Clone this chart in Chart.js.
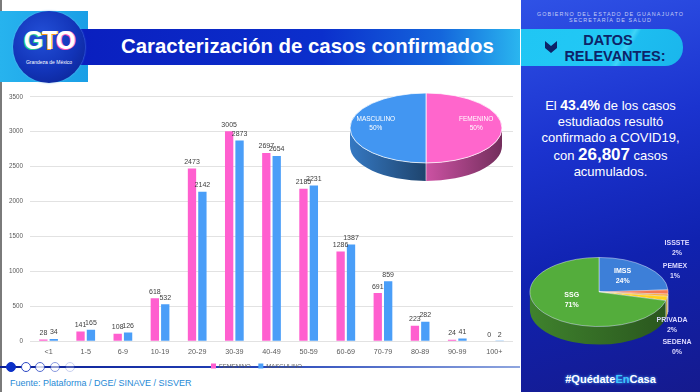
<!DOCTYPE html>
<html>
<head>
<meta charset="utf-8">
<script src="https://cdn.jsdelivr.net/npm/chart.js@4.4.1/dist/chart.umd.min.js"></script>
<style>
  body { margin: 0; width: 700px; height: 392px; overflow: hidden; background: #fff; position: relative; font-family: "Liberation Sans", Arial, sans-serif; }
  .abs { position: absolute; }
  #leftEdge { left: 0; top: 0; width: 2px; height: 392px; background: #7a7a7a; }
  #cyanBlock { left: 0; top: 11px; width: 88px; height: 71px; background: linear-gradient(90deg, #27b3ee, #1a9fe6); }
  #band { left: 80px; top: 29px; width: 440px; height: 36px; background: linear-gradient(90deg, #0a1fbf 0%, #0b2fcc 55%, #1466dc 82%, #2ab6ef 100%); }
  #logo { left: 13px; top: 11px; width: 72px; height: 72px; border-radius: 50%; background: radial-gradient(circle at 40% 35%, #2350d8 0%, #1234b8 55%, #0a1f8a 100%); box-shadow: 0 0 2px #6fb8f0; }
  #gto { left: 13px; top: 26px; width: 72px; text-align: center; font: bold 25px "Liberation Sans", Arial, sans-serif; color: #fff; letter-spacing: -1px; }
  #gto span:nth-child(1) { text-shadow: -1px 1px 0 #22c98c, 1px 0 0 #46e0b0; }
  #gto span:nth-child(2) { text-shadow: -1px 1px 0 #ff9a1a, 1px 0 0 #ffd23a; }
  #gto span:nth-child(3) { text-shadow: -1px 1px 0 #ff4fb8, 1px 0 0 #ff9ad8; }
  #grandeza { left: 13px; top: 59px; width: 72px; text-align: center; font-size: 5px; color: #fff; }
  #title { left: 121px; top: 35px; font: bold 20.4px "Liberation Sans", Arial, sans-serif; color: #fff; white-space: nowrap; }

  #panel { left: 521px; top: 0; width: 179px; height: 392px; background: linear-gradient(165deg, #2f52e6 0%, #1b33cf 35%, #1022b0 65%, #151a8e 100%); overflow: hidden; }
  .gob { left: 521px; width: 179px; text-align: center; font-size: 5.4px; color: #c6cdf5; letter-spacing: 1.1px; white-space: nowrap; }
  #datos { left: 521px; top: 29px; width: 162px; height: 37px; border-radius: 0 18px 18px 0; background: linear-gradient(120deg, #20c6f4 0%, #22c8f5 60%, #3fd3f7 63%, #1dbdf0 66%, #1ab6ec 100%); }
  .dtxt { left: 521px; width: 174px; text-align: center; font: bold 14.5px "Liberation Sans", Arial, sans-serif; color: #0d2368; }
  #chev { left: 545px; top: 41px; width: 12px; height: 12px; background: #0d2368; clip-path: polygon(0 0, 50% 42%, 100% 0, 100% 58%, 50% 100%, 0 58%); }
  .info { left: 521px; width: 179px; text-align: center; font-size: 13px; color: #fff; white-space: nowrap; line-height: 16px; }
  .info b.a { font-size: 14px; }
  .info b.b { font-size: 17px; }
  #quedate { left: 521px; top: 373px; width: 179px; text-align: center; font: bold 11px "Liberation Sans", Arial, sans-serif; color: #fff; text-shadow: 0 0 3px #4aa8ff; }
  #quedate span { color: #3cc8ff; }

  #pagerLine { left: 0; top: 366px; width: 520px; height: 2px; background: linear-gradient(90deg, #0b1e94 0%, #2443b8 50%, #8fa6df 100%); }
  .dot { top: 362px; width: 8px; height: 8px; border-radius: 50%; border: 1.3px solid #2b47c4; background: #fff; }
  #fuente { left: 10px; top: 378px; font-size: 9px; color: #1f8ad6; white-space: nowrap; }

  #bars { left: 0; top: 86px; }
  #sexPie { left: 346px; top: 50px; }
  #instPie { left: 520px; top: 215px; }
</style>
</head>
<body>
<div class="abs" id="leftEdge"></div>
<div class="abs" id="cyanBlock"></div>
<div class="abs" id="band"></div>
<div class="abs" id="logo"></div>
<div class="abs" id="gto"><span>G</span><span>T</span><span>O</span></div>
<div class="abs" id="grandeza">Grandeza de México</div>
<div class="abs" id="title">Caracterización de casos confirmados</div>

<div class="abs" id="panel"></div>
<div class="abs gob" style="top:11px">GOBIERNO DEL ESTADO DE GUANAJUATO</div>
<div class="abs gob" style="top:17px">SECRETARÍA DE SALUD</div>
<div class="abs" id="datos"></div>
<div class="abs" id="chev"></div>
<div class="abs dtxt" style="top:32px">DATOS</div>
<div class="abs dtxt" style="top:48px; left:530px; width:170px">RELEVANTES:</div>
<div class="abs info" style="top:97px">El <b class="a">43.4%</b> de los casos</div>
<div class="abs info" style="top:114px">estudiados resultó</div>
<div class="abs info" style="top:130px">confirmado a COVID19,</div>
<div class="abs info" style="top:147px">con <b class="b">26,807</b> casos</div>
<div class="abs info" style="top:164px">acumulados.</div>
<div class="abs" id="quedate">#Quédate<span>En</span>Casa</div>

<div class="abs" id="pagerLine"></div>
<div class="abs dot" style="left:6px; background:#0b30c8; border-color:#0b30c8"></div>
<div class="abs dot" style="left:21px"></div>
<div class="abs dot" style="left:35px; opacity:.8"></div>
<div class="abs dot" style="left:50px; opacity:.55"></div>
<div class="abs dot" style="left:65px; opacity:.25"></div>
<div class="abs" id="fuente">Fuente: Plataforma / DGE/ SINAVE / SISVER</div>

<canvas class="abs" id="bars" width="520" height="293"></canvas>
<canvas class="abs" id="sexPie" width="160" height="160"></canvas>
<canvas class="abs" id="instPie" width="180" height="160"></canvas>

<script>
// Confirmed cases by age group and sex
const ageGroups = ['<1', '1-5', '6-9', '10-19', '20-29', '30-39', '40-49', '50-59', '60-69', '70-79', '80-89', '90-99', '100+'];
const femenino = [28, 141, 108, 618, 2473, 3005, 2697, 2185, 1286, 691, 223, 24, 0];
const masculino = [34, 165, 126, 532, 2142, 2873, 2654, 2231, 1387, 859, 282, 41, 2];

// Sex split
const sexLabels = ['FEMENINO', 'MASCULINO'];
const sexShares = [50, 50];

// Cases by institution
const instLabels = ['IMSS', 'ISSSTE', 'PEMEX', 'PRIVADA', 'SEDENA', 'SSG'];
const instShares = [24, 2, 1, 2, 0, 71];

const FONT = '"Liberation Sans", Arial, sans-serif';

// value labels on top of bars
const barLabels = {
    id: 'barLabels',
    afterDatasetsDraw(chart) {
        const ctx = chart.ctx;
        ctx.save();
        ctx.font = '7px ' + FONT;
        ctx.fillStyle = '#404040';
        ctx.textAlign = 'center';
        ctx.textBaseline = 'bottom';
        chart.data.datasets.forEach((ds, i) => {
            chart.getDatasetMeta(i).data.forEach((bar, j) => {
                ctx.fillText(ds.data[j], bar.x, bar.y - 3);
            });
        });
        ctx.restore();
    }
};

function shade(hex, f) {
    const n = parseInt(hex.slice(1), 16);
    const r = Math.round(((n >> 16) & 255) * f);
    const g = Math.round(((n >> 8) & 255) * f);
    const b = Math.round((n & 255) * f);
    return `rgb(${r},${g},${b})`;
}

// squash the pie into an ellipse and give it a side wall
const pie3d = {
    id: 'pie3d',
    beforeDatasetsDraw(chart, args, opts) {
        const ctx = chart.ctx;
        const arcs = chart.getDatasetMeta(0).data;
        const cx = arcs[0].x, cy = arcs[0].y, r = arcs[0].outerRadius;
        const d = opts.depth;
        const colors = chart.data.datasets[0].backgroundColor;
        ctx.save();
        ctx.translate(0, cy);
        ctx.scale(1, opts.tilt);
        ctx.translate(0, -cy);
        arcs.forEach((arc, i) => {
            const a0 = Math.max(arc.startAngle, 0);
            const a1 = Math.min(arc.endAngle, Math.PI);
            if (a1 <= a0) return;
            const xl = cx + Math.cos(a1) * r, xr = cx + Math.cos(a0) * r;
            const g = ctx.createLinearGradient(Math.min(xl, xr), 0, Math.max(xl, xr), 0);
            g.addColorStop(0, shade(colors[i], opts.light));
            g.addColorStop(1, shade(colors[i], opts.dark));
            ctx.beginPath();
            ctx.arc(cx, cy, r, a0, a1);
            ctx.arc(cx, cy + d, r, a1, a0, true);
            ctx.closePath();
            ctx.fillStyle = g;
            ctx.fill();
            // slice edge on the wall
            if (arc.startAngle > 0 && arc.startAngle < Math.PI) {
                ctx.beginPath();
                ctx.moveTo(cx + Math.cos(a0) * r, cy + Math.sin(a0) * r);
                ctx.lineTo(cx + Math.cos(a0) * r, cy + Math.sin(a0) * r + d);
                ctx.strokeStyle = 'rgba(255,255,255,0.8)';
                ctx.lineWidth = 1;
                ctx.stroke();
            }
        });
    },
    afterDatasetsDraw(chart) {
        chart.ctx.restore();
    }
};

// slice labels: name + percent
const pieLabels = {
    id: 'pieLabels',
    afterDraw(chart, args, opts) {
        const ctx = chart.ctx;
        const ds = chart.data.datasets[0];
        const total = ds.data.reduce((a, b) => a + b, 0);
        ctx.save();
        ctx.textAlign = 'center';
        ctx.textBaseline = 'middle';
        chart.getDatasetMeta(0).data.forEach((arc, i) => {
            const name = chart.data.labels[i];
            const pct = Math.round(ds.data[i] / total * 100) + '%';
            const out = opts.outside && opts.outside[name];
            let x, y;
            if (out) {
                x = arc.x + out[0];
                y = arc.y + out[1];
                ctx.fillStyle = opts.outColor;
            } else {
                const mid = (arc.startAngle + arc.endAngle) / 2;
                x = arc.x + Math.cos(mid) * arc.outerRadius * opts.inset;
                y = arc.y + Math.sin(mid) * arc.outerRadius * opts.inset * opts.tilt + opts.dy;
                ctx.fillStyle = '#ffffff';
            }
            ctx.font = opts.font;
            ctx.fillText(name, x, y - opts.gap / 2);
            ctx.fillText(pct, x, y + opts.gap / 2);
        });
        ctx.restore();
    }
};

new Chart(document.getElementById('bars'), {
    type: 'bar',
    data: {
        labels: ageGroups,
        datasets: [
            { label: 'FEMENINO', data: femenino, backgroundColor: '#ff5fcf' },
            { label: 'MASCULINO', data: masculino, backgroundColor: '#4a9ef8' }
        ]
    },
    options: {
        responsive: false,
        animation: false,
        layout: { padding: { top: 6, right: 7, left: 0, bottom: 0 } },
        datasets: { bar: { categoryPercentage: 0.56, barPercentage: 0.8 } },
        plugins: {
            tooltip: { enabled: false },
            legend: {
                position: 'bottom',
                labels: {
                    boxWidth: 5, boxHeight: 5, padding: 1, color: '#5a5a5a', font: { size: 6, family: FONT },
                    // keep the gap between the two entries
                    generateLabels(chart) {
                        return Chart.defaults.plugins.legend.labels.generateLabels(chart)
                            .map((l, i) => i === 0 ? { ...l, text: l.text + '\u00a0\u00a0\u00a0\u00a0' } : l);
                    }
                }
            }
        },
        scales: {
            x: {
                grid: { display: false, drawTicks: false },
                border: { display: false },
                ticks: { padding: 6, color: '#5a5a5a', font: { size: 7.2, family: FONT } }
            },
            y: {
                min: 0,
                max: 3500,
                grid: { color: '#e2e2e2', drawTicks: false },
                border: { display: false },
                ticks: { stepSize: 500, padding: 7, color: '#5a5a5a', font: { size: 6.3, family: FONT }, callback: v => String(v) },
                afterFit(scale) { scale.width = 30; }
            }
        }
    },
    plugins: [barLabels]
});

new Chart(document.getElementById('sexPie'), {
    type: 'pie',
    data: {
        labels: sexLabels,
        datasets: [{ data: sexShares, backgroundColor: ['#ff66cc', '#4296f2'], borderColor: '#ffffff', borderWidth: 1, clip: false }]
    },
    options: {
        responsive: false,
        animation: false,
        layout: { padding: { left: 3.5, right: 3.5, top: 1.5, bottom: 5.5 } },
        plugins: {
            legend: { display: false },
            tooltip: { enabled: false },
            pie3d: { tilt: 0.46, depth: 39, light: 0.8, dark: 0.45 },
            pieLabels: { inset: 0.66, tilt: 0.46, dy: -4, gap: 9, font: '6.5px ' + FONT }
        }
    },
    plugins: [pie3d, pieLabels]
});

new Chart(document.getElementById('instPie'), {
    type: 'pie',
    data: {
        labels: instLabels,
        datasets: [{
            data: instShares,
            backgroundColor: ['#3d7fd8', '#f47a52', '#ffa726', '#ffd21f', '#9e9e9e', '#54ad3c'],
            borderColor: 'rgba(255,255,255,0.7)',
            borderWidth: 0.8,
            clip: false
        }]
    },
    options: {
        responsive: false,
        animation: false,
        layout: { padding: { left: 9.5, right: 31.5, top: 7.5, bottom: 13.5 } },
        plugins: {
            legend: { display: false },
            tooltip: { enabled: false },
            pie3d: { tilt: 0.5, depth: 36, light: 0.75, dark: 0.5 },
            pieLabels: {
                inset: 0.5, tilt: 0.5, dy: -3, gap: 10,
                font: 'bold 7px ' + FONT,
                outColor: '#dcd9ff',
                outside: { ISSSTE: [78, -44], PEMEX: [76, -21], PRIVADA: [73, 33], SEDENA: [78, 55] }
            }
        }
    },
    plugins: [pie3d, pieLabels]
});
</script>
</body>
</html>
